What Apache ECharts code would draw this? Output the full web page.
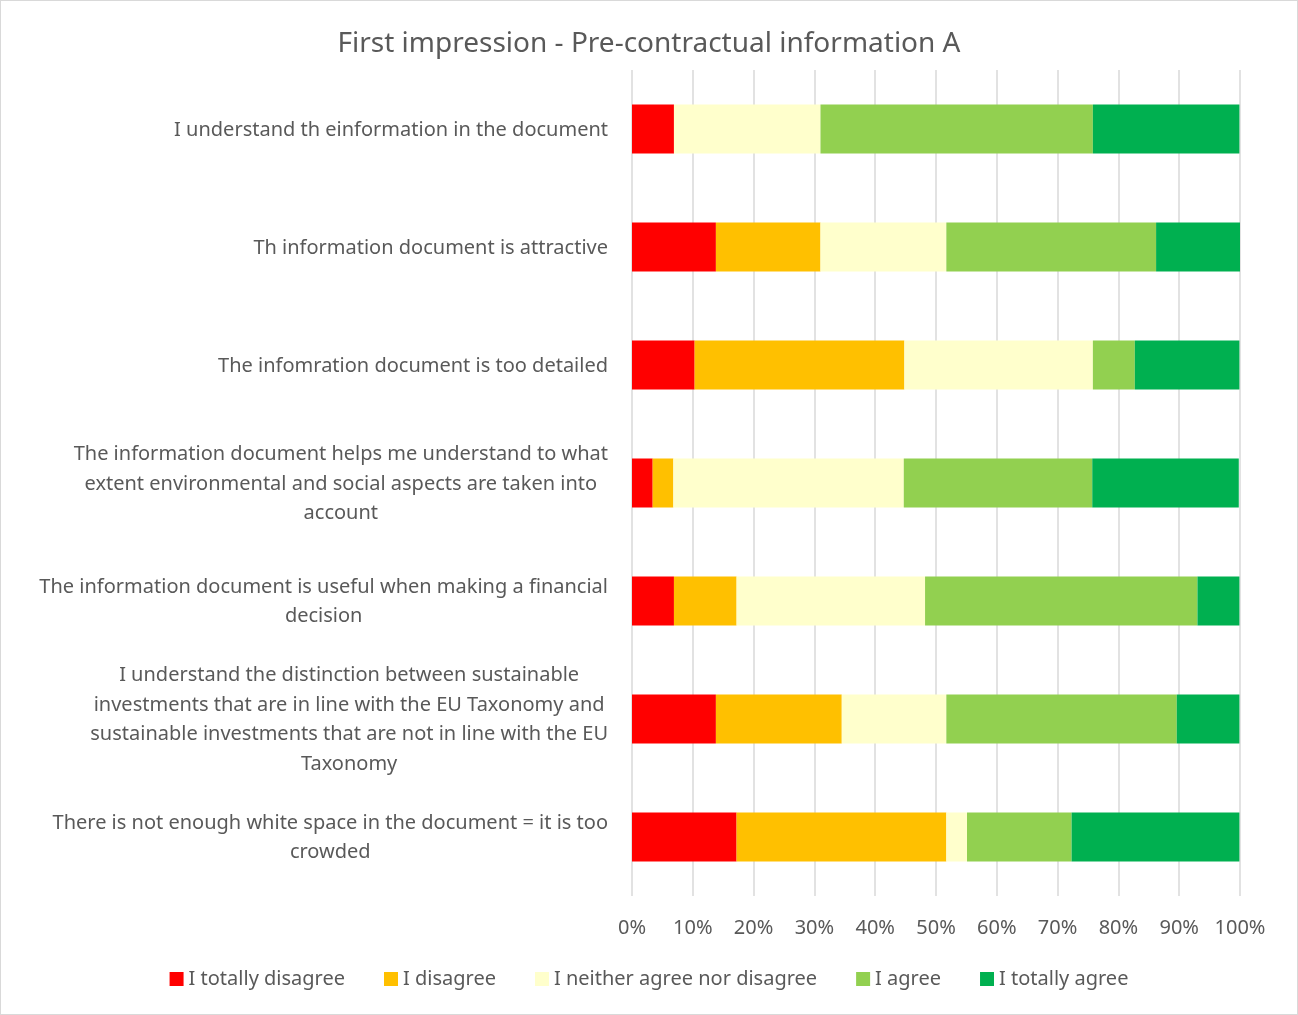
<!DOCTYPE html>
<html>
<head>
<meta charset="utf-8">
<script src="https://cdn.jsdelivr.net/npm/echarts@6/dist/echarts.min.js"></script>
<style>
  html, body { margin: 0; padding: 0; background: #fff; }
  #chart { width: 1298px; height: 1015px; border: 1px solid #d9d9d9; box-sizing: border-box; }
</style>
</head>
<body>
<div id="chart"></div>
<script>
var categories = [
  "I understand th einformation in the document",
  "Th information document is attractive",
  "The infomration document is too detailed",
  "The information document helps me understand to what\nextent environmental and social aspects are taken into\naccount",
  "The information document is useful when making a financial\ndecision",
  "I understand the distinction between sustainable\ninvestments that are in line with the EU Taxonomy and\nsustainable investments that are not in line with the EU\nTaxonomy",
  "There is not enough white space in the document = it is too\ncrowded"
];
var totallyDisagree = [6.9, 13.8, 10.3, 3.4, 6.9, 13.8, 17.2];
var disagree        = [0, 17.2, 34.5, 3.4, 10.3, 20.7, 34.5];
var neither         = [24.1, 20.7, 31.0, 37.9, 31.0, 17.2, 3.4];
var agree           = [44.8, 34.5, 6.9, 31.0, 44.8, 37.9, 17.2];
var totallyAgree    = [24.1, 13.8, 17.2, 24.1, 6.9, 10.3, 27.6];

var font = "Noto Sans";
var textColor = "#595959";

function bar(name, data, color) {
  return {
    name: name,
    type: "bar",
    stack: "total",
    barWidth: 49,
    data: data,
    itemStyle: { color: color },
    emphasis: { disabled: true }
  };
}

var chart = echarts.init(document.getElementById("chart"));
chart.setOption({
  animation: false,
  textStyle: { fontFamily: font },
  title: {
    text: "First impression - Pre-contractual information A",
    left: "center",
    top: 24,
    textStyle: { fontFamily: font, fontSize: 28, fontWeight: "normal", color: textColor }
  },
  legend: {
    bottom: 20,
    left: "center",
    itemWidth: 14,
    itemHeight: 14,
    itemGap: 39,
    icon: "rect",
    textStyle: { fontFamily: font, fontSize: 20, color: textColor }
  },
  grid: { left: 631, right: 57, top: 69, bottom: 118 },
  xAxis: {
    type: "value",
    min: 0,
    max: 100,
    interval: 10,
    axisLine: { show: false },
    axisTick: { show: false },
    splitLine: { lineStyle: { color: "#d9d9d9", width: 1.5 } },
    axisLabel: { formatter: "{value}%", fontSize: 20, color: textColor, margin: 22, fontFamily: font }
  },
  yAxis: {
    type: "category",
    inverse: true,
    data: categories,
    axisLine: { show: false },
    axisTick: { show: false },
    axisLabel: {
      margin: 24,
      formatter: function (v) {
        return v.split("\n").map(function (l) { return "{c|" + l + "}"; }).join("\n");
      },
      rich: {
        c: { align: "center", fontSize: 20, lineHeight: 29.5, color: textColor, fontFamily: font, padding: [2, 0, 0, 0] }
      }
    }
  },
  series: [
    bar("I totally disagree", totallyDisagree, "#FF0000"),
    bar("I disagree", disagree, "#FFC000"),
    bar("I neither agree nor disagree", neither, "#FFFFCC"),
    bar("I agree", agree, "#92D050"),
    bar("I totally agree", totallyAgree, "#00B050")
  ]
});
</script>
</body>
</html>
